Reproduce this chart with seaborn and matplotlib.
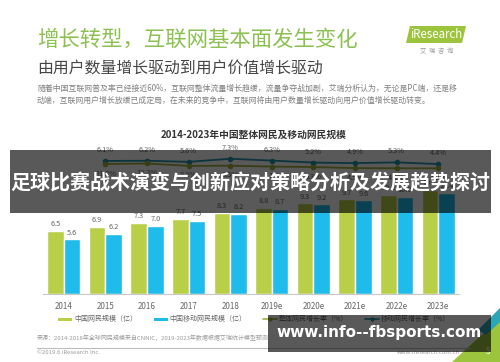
import numpy as np
import pandas as pd
import matplotlib.pyplot as plt
import matplotlib.patches as mpatches
from matplotlib.lines import Line2D
import seaborn as sns

# values
years = ['2014', '2015', '2016', '2017', '2018', '2019e', '2020e', '2021e', '2022e', '2023e']
netizens = [6.5, 6.9, 7.3, 7.7, 8.3, 8.8, 9.3, 9.7, 10.2, 10.7]        # 中国网民规模（亿）
mobile_netizens = [5.6, 6.2, 7.0, 7.5, 8.2, 8.7, 9.2, 9.6, 10.0, 10.4]  # 中国移动网民规模（亿）
growth_years = years[1:]
teal_growth = [6.1, 6.2, 5.6, 7.3, 6.3, 5.2, 4.9, 5.3, 4.4]     # upper line, labels above
olive_growth = [11.3, 12.2, 8.2, 8.5, 7.1, 6.3, 4.5, 4.3, 4.2]  # lower line, labels below

GREEN = '#b8cf47'
BLUE = '#1fbbea'
TEAL = '#2595ad'
OLIVE = '#a2b03c'
TITLE_GREEN = '#8cc152'

sns.set_style('white')
plt.rcParams['font.family'] = ['Noto Sans CJK SC', 'DejaVu Sans']

W, H = 500, 362
fig = plt.figure(figsize=(W / 100, H / 100), dpi=100)
fig.patch.set_facecolor('white')

# slide layer (pixel coordinates)
bg = fig.add_axes([0, 0, 1, 1], zorder=0)
bg.set_xlim(0, W)
bg.set_ylim(H, 0)
bg.axis('off')

bg.text(37, 40, '增长转型，互联网基本面发生变化', color=TITLE_GREEN, fontsize=15.4, va='center')
bg.text(37, 68, '由用户数量增长驱动到用户价值增长驱动', color='#454545', fontsize=11.4, va='center')
bg.text(37, 88, '随着中国互联网普及率已经接近60%，互联网整体流量增长趋缓，流量争夺战加剧，艾瑞分析认为，无论是PC端，还是移',
        color='#808080', fontsize=5.7, va='center')
bg.text(37, 100, '动端，互联网用户增长放缓已成定局，在未来的竞争中，互联网将由用户数量增长驱动向用户价值增长驱动转变。',
        color='#808080', fontsize=5.7, va='center')

# iResearch logo
bg.add_patch(mpatches.Polygon([(406, 43), (410, 26), (466, 26), (462, 43)], closed=True,
                              facecolor='#9cc43c', edgecolor='none'))
bg.text(436, 35, 'iResearch', color='white', fontsize=8.3, ha='center', va='center')
bg.text(437, 51, '艾  瑞  咨  询', color='#9a9a9a', fontsize=4.5, ha='center', va='center')

bg.text(254, 135, '2014-2023年中国整体网民及移动网民规模', color='#333333', fontsize=7,
        fontweight='bold', ha='center', va='center')

# legend row
bg.add_patch(mpatches.Rectangle((58, 317.5), 14, 3.5, facecolor=GREEN, edgecolor='none'))
bg.text(74, 319, '中国网民规模（亿）', color='#666666', fontsize=5, va='center')
bg.add_patch(mpatches.Rectangle((154, 317.5), 14, 3.5, facecolor=BLUE, edgecolor='none'))
bg.text(169, 319, '中国移动网民规模（亿）', color='#666666', fontsize=5, va='center')
bg.add_line(Line2D([263, 277], [319, 319], color=OLIVE, lw=1.2))
bg.plot([270], [319], 'o', color=OLIVE, markersize=3, markeredgewidth=0)
bg.text(279, 319, '整体网民增长率（%）', color='#666666', fontsize=5, va='center')
bg.add_line(Line2D([365, 379], [319, 319], color=TEAL, lw=1.2))
bg.plot([372], [319], 'o', color=TEAL, markersize=3, markeredgewidth=0)
bg.text(381, 319, '移动网民增长率（%）', color='#666666', fontsize=5, va='center')

bg.text(37, 338, '来源：2014-2018年全球网民规模来自CNNIC，2019-2023年数据根据艾瑞统计模型预测',
        color='#9a9a9a', fontsize=4.3, va='center')
bg.plot([37, 470], [347.5, 347.5], color='#bdbdbd', lw=0.8)
bg.text(37, 353, '©2019.6 iResearch Inc.', color='#9a9a9a', fontsize=4.3, va='center')
bg.text(460, 352, 'www.iresearch.com.cn', color='#9a9a9a', fontsize=4.3, ha='right', va='center')

# corner decoration
bg.add_patch(mpatches.Polygon([(452, 362), (500, 318), (500, 362)], closed=True,
                              facecolor='#9cc43c', edgecolor='none'))
bg.add_patch(mpatches.Polygon([(478, 330), (500, 308), (500, 322), (486, 335)], closed=True,
                              facecolor='#2ba6b5', edgecolor='none'))
bg.text(488, 352, '5', color='white', fontsize=6, ha='center', va='center')

# chart
ax = fig.add_axes([43 / W, (H - 294) / H, 416 / W, 154 / H], zorder=1)
ax.patch.set_alpha(0)
df = pd.DataFrame({
    'year': years * 2,
    'value': netizens + mobile_netizens,
    'series': ['中国网民规模（亿）'] * len(years) + ['中国移动网民规模（亿）'] * len(years),
})
sns.barplot(data=df, x='year', y='value', hue='series', palette=[GREEN, BLUE],
            width=0.8, saturation=1, legend=False, ax=ax)
for cont in ax.containers:
    ax.bar_label(cont, fmt='%.1f', padding=2, fontsize=5.3, color='#666666')
ax.set_xlim(-0.5, len(years) - 0.5)
ax.set_ylim(0, 15.8)
ax.set_xlabel('')
ax.set_ylabel('')
ax.set_yticks([])
ax.tick_params(axis='x', length=0, labelsize=5.8, labelcolor='#666666', pad=6)
for side in ['top', 'left', 'right']:
    ax.spines[side].set_visible(False)
ax.spines['bottom'].set_color('#c8c8c8')
ax.spines['bottom'].set_linewidth(0.8)

xpos = np.arange(1, len(years))

ax2 = ax.twinx()
sns.lineplot(x=xpos, y=teal_growth, ax=ax2, color=TEAL, lw=1.3, marker='o',
             markersize=4, markeredgewidth=0)
ax2.set_ylim(-67, 17.6)
ax2.axis('off')
for x, v in zip(xpos, teal_growth):
    ax2.annotate(f'{v}%', (x, v), xytext=(0, 5), textcoords='offset points',
                 ha='center', va='bottom', fontsize=5.3, color='#666666')

ax3 = ax.twinx()
sns.lineplot(x=xpos, y=olive_growth, ax=ax3, color=OLIVE, lw=1.3, marker='o',
             markersize=4, markeredgewidth=0)
ax3.set_ylim(-205, 51.3)
ax3.axis('off')
for x, v in zip(xpos, olive_growth):
    ax3.annotate(f'{v}%', (x, v), xytext=(0, -4), textcoords='offset points',
                 ha='center', va='top', fontsize=5.3, color='#666666')
ax3.set_xlim(-0.5, len(years) - 0.5)
ax2.set_xlim(-0.5, len(years) - 0.5)

# overlay banners
ov = fig.add_axes([0, 0, 1, 1], zorder=10)
ov.set_xlim(0, W)
ov.set_ylim(H, 0)
ov.axis('off')
ov.patch.set_alpha(0)
ov.add_patch(mpatches.Rectangle((10, 150), 481, 63, facecolor='black', alpha=0.65, edgecolor='none'))
ov.text(250, 183, '足球比赛战术演变与创新应对策略分析及发展趋势探讨', color='white', fontsize=14.4,
        fontweight='bold', ha='center', va='center')
ov.add_patch(mpatches.Rectangle((268, 315), 223, 37, facecolor='black', alpha=0.65, edgecolor='none'))
ov.text(379, 333, 'www.info--fbsports.com', color='white', fontsize=11, fontweight='bold',
        family=['DejaVu Sans'], ha='center', va='center')

fig.savefig('out.png', dpi=100)
